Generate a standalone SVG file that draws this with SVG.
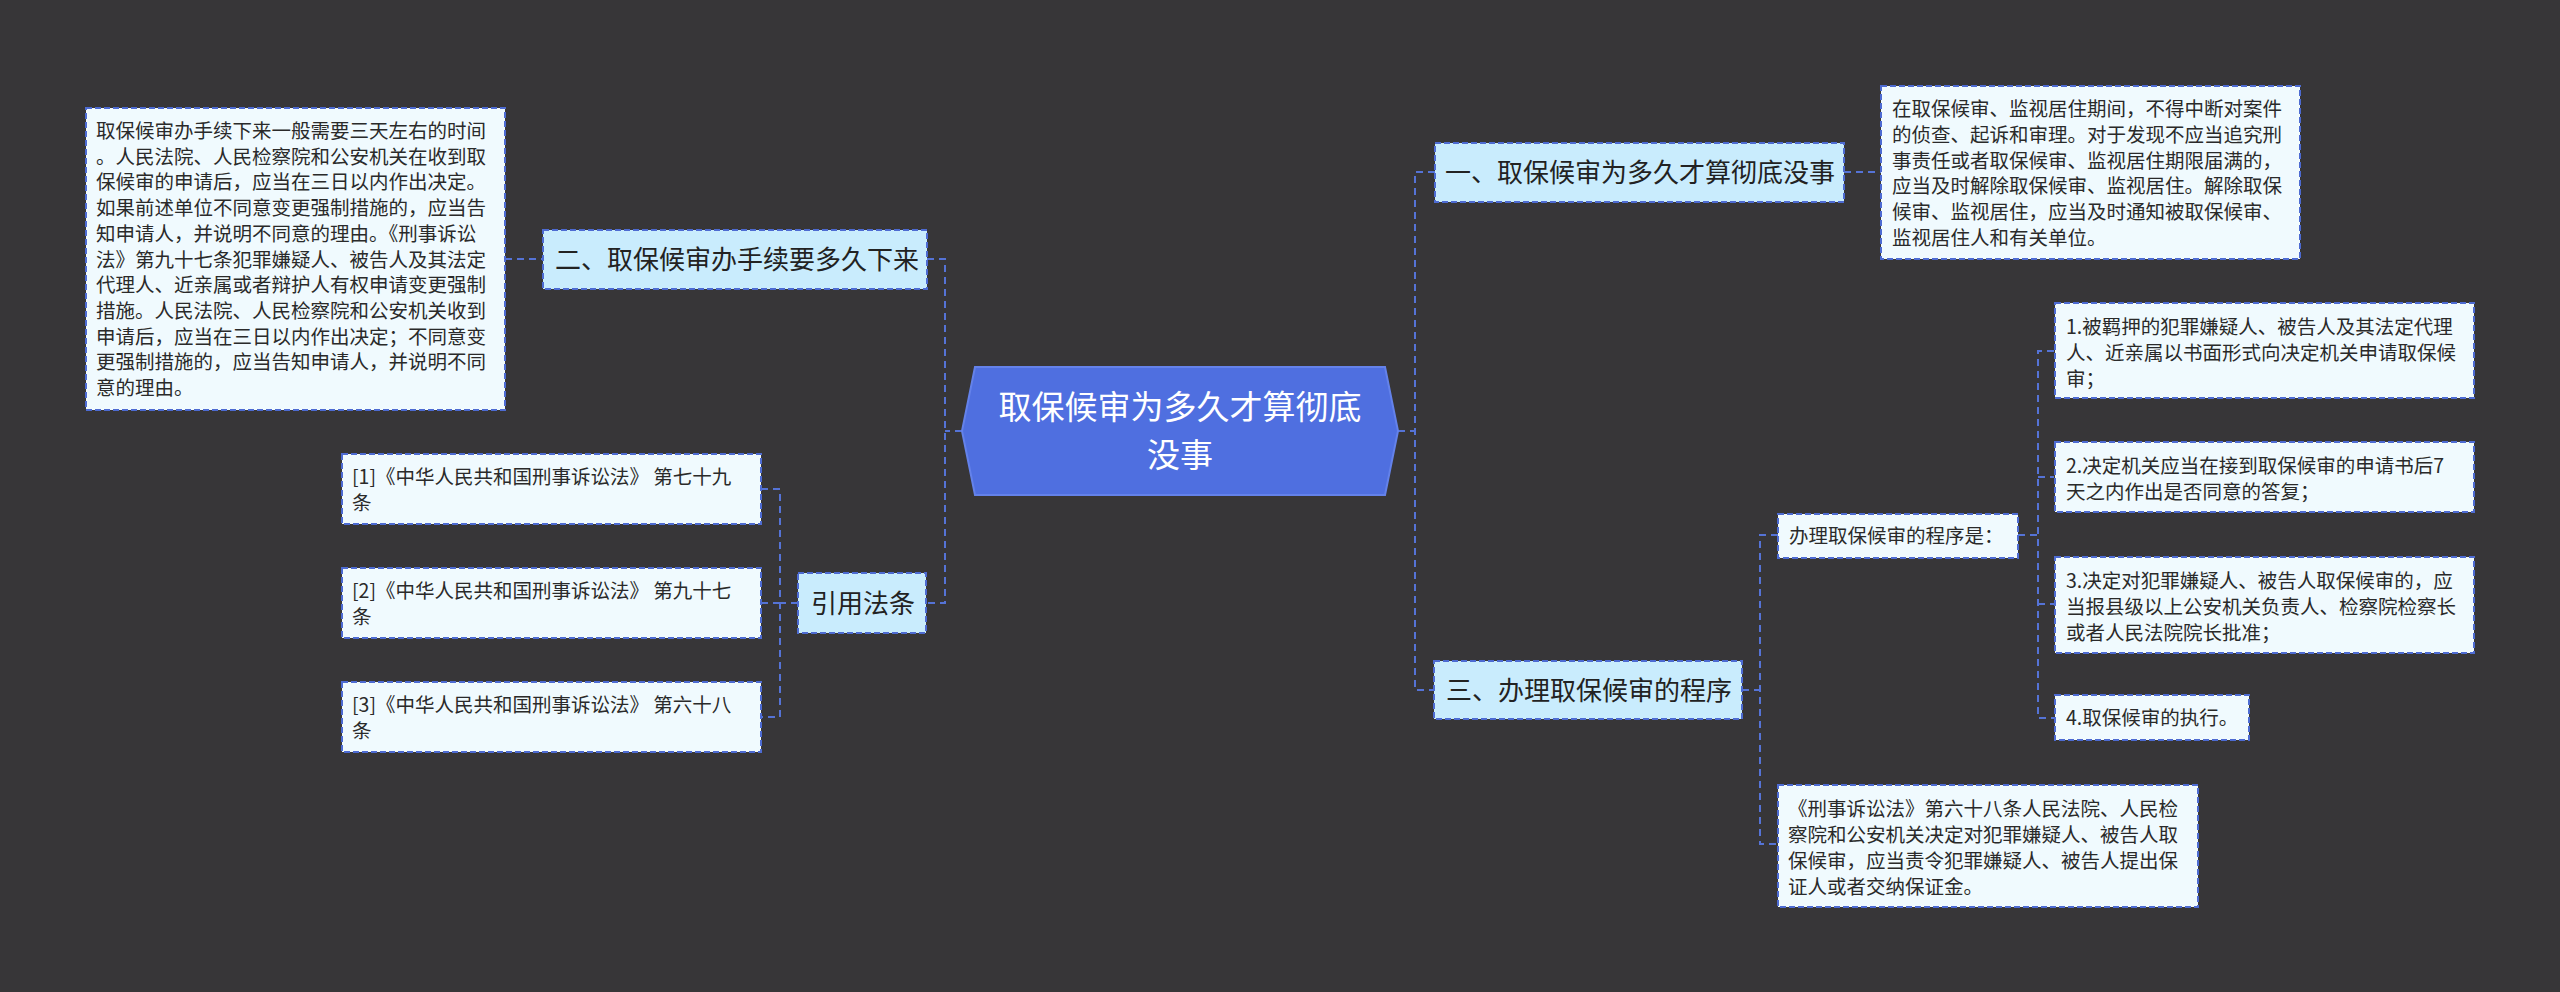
<svg xmlns="http://www.w3.org/2000/svg" width="2560" height="992" viewBox="0 0 2560 992">
<style>
.bg{fill:#373638}
.conn{fill:none;stroke:#5573d6;stroke-width:2;stroke-dasharray:7,5}
.sec{fill:#c9ecfd;stroke:#4d6bd2;stroke-width:2;stroke-dasharray:6,3}
.det{fill:#f0fafe;stroke:#4d6bd2;stroke-width:2;stroke-dasharray:6,3}
.ts{font-family:"Noto Sans CJK SC","Noto Sans",sans-serif;font-size:26px;fill:#222}
.td{font-family:"Noto Sans CJK SC","Noto Sans",sans-serif;font-size:19.5px;fill:#2a2a2a}
.tc{font-family:"Noto Sans CJK SC","Noto Sans",sans-serif;font-size:33px;fill:#ffffff;text-anchor:middle}
</style>
<rect class="bg" x="0" y="0" width="2560" height="992"/>
<g id="connectors">
<path class="conn" d="M962 431H945M927 259H945V603H926"/>
<path class="conn" d="M505 259H542"/>
<path class="conn" d="M798 603H780M761 489H780V717H761M761 603H780"/>
<path class="conn" d="M1398 431H1415M1435 172H1415V690H1433"/>
<path class="conn" d="M1844 172H1881"/>
<path class="conn" d="M1742 690H1760M1778 535H1760V844H1778"/>
<path class="conn" d="M2018 535H2038M2054 351H2038V718H2054M2038 477H2054M2038 604H2054"/>
</g>
<g id="center">
<polygon points="962,431 975,367 1385,367 1398,431 1385,495 975,495" fill="#4f6fe0" stroke="#6482ea" stroke-width="2"/>
<text class="tc" x="1180" y="419">取保候审为多久才算彻底</text>
<text class="tc" x="1180" y="467">没事</text>
</g>
<g id="n2">
<rect class="sec" x="543" y="230" width="384" height="59"/>
<text class="ts" x="555" y="269">二、取保候审办手续要多久下来</text>
</g>
<g id="n2d">
<rect class="det" x="86" y="108" width="419" height="302"/>
<text class="td" x="96" y="138">取保候审办手续下来一般需要三天左右的时间</text>
<text class="td" x="96" y="163.7">。人民法院、人民检察院和公安机关在收到取</text>
<text class="td" x="96" y="189.4">保候审的申请后，应当在三日以内作出决定。</text>
<text class="td" x="96" y="215.1">如果前述单位不同意变更强制措施的，应当告</text>
<text class="td" x="96" y="240.8">知申请人，并说明不同意的理由。《刑事诉讼</text>
<text class="td" x="96" y="266.5">法》第九十七条犯罪嫌疑人、被告人及其法定</text>
<text class="td" x="96" y="292.2">代理人、近亲属或者辩护人有权申请变更强制</text>
<text class="td" x="96" y="317.9">措施。人民法院、人民检察院和公安机关收到</text>
<text class="td" x="96" y="343.6">申请后，应当在三日以内作出决定；不同意变</text>
<text class="td" x="96" y="369.3">更强制措施的，应当告知申请人，并说明不同</text>
<text class="td" x="96" y="395">意的理由。</text>
</g>
<g id="ref">
<rect class="sec" x="798" y="573" width="128" height="60"/>
<text class="ts" x="811" y="613">引用法条</text>
</g>
<g id="ref1">
<rect class="det" x="342" y="454" width="419" height="70"/>
<text class="td" x="352" y="484">[1]《中华人民共和国刑事诉讼法》 第七十九</text>
<text class="td" x="352" y="510">条</text>
</g>
<g id="ref2">
<rect class="det" x="342" y="568" width="419" height="70"/>
<text class="td" x="352" y="598">[2]《中华人民共和国刑事诉讼法》 第九十七</text>
<text class="td" x="352" y="624">条</text>
</g>
<g id="ref3">
<rect class="det" x="342" y="682" width="419" height="70"/>
<text class="td" x="352" y="712">[3]《中华人民共和国刑事诉讼法》 第六十八</text>
<text class="td" x="352" y="738">条</text>
</g>
<g id="n1">
<rect class="sec" x="1435" y="143" width="409" height="59"/>
<text class="ts" x="1445" y="182">一、取保候审为多久才算彻底没事</text>
</g>
<g id="n1d">
<rect class="det" x="1881" y="86" width="419" height="173"/>
<text class="td" x="1892" y="116">在取保候审、监视居住期间，不得中断对案件</text>
<text class="td" x="1892" y="141.8">的侦查、起诉和审理。对于发现不应当追究刑</text>
<text class="td" x="1892" y="167.6">事责任或者取保候审、监视居住期限届满的，</text>
<text class="td" x="1892" y="193.4">应当及时解除取保候审、监视居住。解除取保</text>
<text class="td" x="1892" y="219.2">候审、监视居住，应当及时通知被取保候审、</text>
<text class="td" x="1892" y="245">监视居住人和有关单位。</text>
</g>
<g id="n3">
<rect class="sec" x="1434" y="661" width="308" height="58"/>
<text class="ts" x="1446" y="700">三、办理取保候审的程序</text>
</g>
<g id="n3a">
<rect class="det" x="1778" y="514" width="240" height="44"/>
<text class="td" x="1789" y="543">办理取保候审的程序是：</text>
</g>
<g id="i1">
<rect class="det" x="2055" y="303" width="419" height="95"/>
<text class="td" x="2066" y="334">1.被羁押的犯罪嫌疑人、被告人及其法定代理</text>
<text class="td" x="2066" y="360">人、近亲属以书面形式向决定机关申请取保候</text>
<text class="td" x="2066" y="386">审；</text>
</g>
<g id="i2">
<rect class="det" x="2055" y="442" width="419" height="70"/>
<text class="td" x="2066" y="473">2.决定机关应当在接到取保候审的申请书后7</text>
<text class="td" x="2066" y="499">天之内作出是否同意的答复；</text>
</g>
<g id="i3">
<rect class="det" x="2055" y="557" width="419" height="96"/>
<text class="td" x="2066" y="588">3.决定对犯罪嫌疑人、被告人取保候审的，应</text>
<text class="td" x="2066" y="614">当报县级以上公安机关负责人、检察院检察长</text>
<text class="td" x="2066" y="640">或者人民法院院长批准；</text>
</g>
<g id="i4">
<rect class="det" x="2055" y="695" width="194" height="45"/>
<text class="td" x="2066" y="725">4.取保候审的执行。</text>
</g>
<g id="n3b">
<rect class="det" x="1778" y="785" width="420" height="122"/>
<text class="td" x="1788" y="816">《刑事诉讼法》第六十八条人民法院、人民检</text>
<text class="td" x="1788" y="842">察院和公安机关决定对犯罪嫌疑人、被告人取</text>
<text class="td" x="1788" y="868">保候审，应当责令犯罪嫌疑人、被告人提出保</text>
<text class="td" x="1788" y="894">证人或者交纳保证金。</text>
</g>
</svg>
